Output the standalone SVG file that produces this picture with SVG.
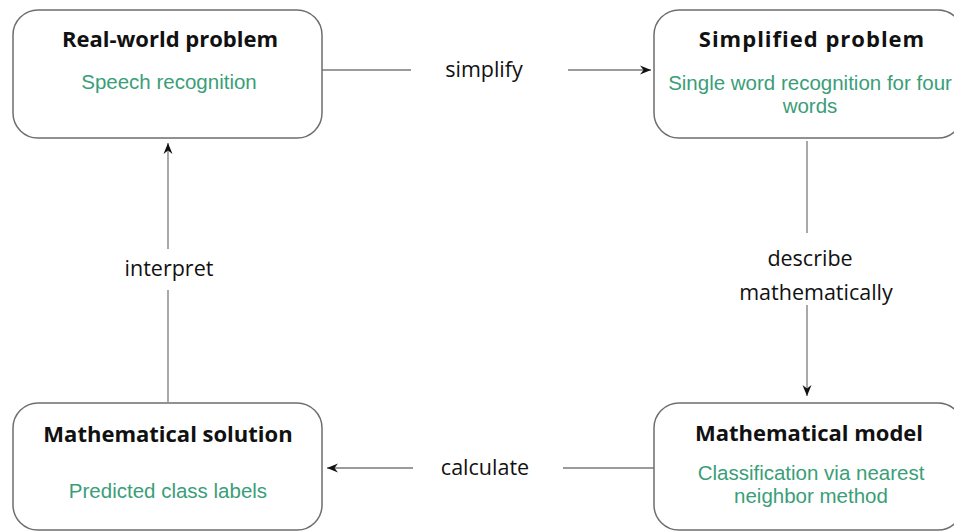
<svg xmlns="http://www.w3.org/2000/svg" width="954" height="532" viewBox="0 0 954 532">
<style>
.box{fill:#fff;stroke:#6e6e6e;stroke-width:1.5}
.title{font-family:"Open Sans","DejaVu Sans",sans-serif;font-weight:bold;font-size:22px;fill:#111;text-anchor:middle;dominant-baseline:central}
.sub{font-family:"Liberation Sans",Arial,sans-serif;font-size:20.5px;fill:#3a9e78;text-anchor:middle;dominant-baseline:central}
.lbl{font-family:"Open Sans","DejaVu Sans",sans-serif;font-size:21.5px;fill:#111;text-anchor:middle;dominant-baseline:central}
.ln{stroke:#7a7a7a;stroke-width:1.3;fill:none}
</style>
<defs>
<marker id="ah" markerWidth="12" markerHeight="10" refX="11" refY="5" orient="auto" markerUnits="userSpaceOnUse">
<path d="M0,0.5 L11,5 L0,9.5 L3.5,5 Z" fill="#111"/>
</marker>
</defs>
<rect width="954" height="532" fill="#fff"/>
<g id="connectors">
<line class="ln" x1="322" y1="70" x2="411" y2="70"/>
<line class="ln" x1="568" y1="70" x2="651" y2="70" marker-end="url(#ah)"/>
<text class="lbl" x="484" y="68">simplify</text>
<line class="ln" x1="807" y1="141" x2="807" y2="233"/>
<line class="ln" x1="807" y1="305" x2="807" y2="396" marker-end="url(#ah)"/>
<text class="lbl" x="810" y="257">describe</text>
<text class="lbl" x="816" y="291">mathematically</text>
<line class="ln" x1="654" y1="468" x2="563" y2="468"/>
<line class="ln" x1="413" y1="468" x2="327" y2="468" marker-end="url(#ah)"/>
<text class="lbl" x="485" y="466">calculate</text>
<line class="ln" x1="168" y1="402" x2="168" y2="290"/>
<line class="ln" x1="168" y1="249" x2="168" y2="143" marker-end="url(#ah)"/>
<text class="lbl" x="169" y="267">interpret</text>
</g>
<g id="real-world">
<rect class="box" x="13" y="10" width="309" height="128" rx="25" ry="25"/>
<text class="title" x="170" y="38">Real-world problem</text>
<text class="sub" x="169" y="81">Speech recognition</text>
</g>
<g id="simplified">
<rect class="box" x="654" y="10" width="309" height="128" rx="25" ry="25"/>
<text class="title" x="812" y="38" letter-spacing="1">Simplified problem</text>
<text class="sub" x="810" y="82">Single word recognition for four</text>
<text class="sub" x="810" y="105">words</text>
</g>
<g id="solution">
<rect class="box" x="13" y="403" width="309" height="127" rx="25" ry="25"/>
<text class="title" x="168" y="433">Mathematical solution</text>
<text class="sub" x="168" y="490">Predicted class labels</text>
</g>
<g id="model">
<rect class="box" x="654" y="403" width="309" height="127" rx="25" ry="25"/>
<text class="title" x="809" y="432">Mathematical model</text>
<text class="sub" x="811" y="472">Classification via nearest</text>
<text class="sub" x="811" y="495">neighbor method</text>
</g>
</svg>
